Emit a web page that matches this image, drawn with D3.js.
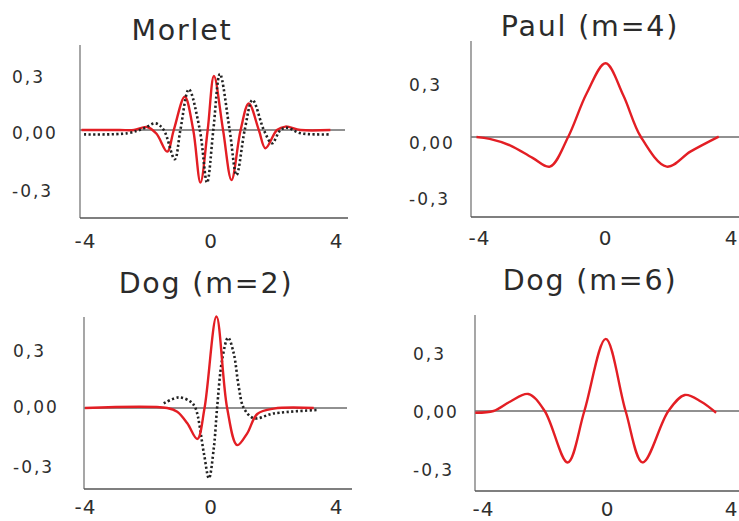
<!DOCTYPE html>
<html>
<head>
<meta charset="utf-8">
<script src="https://cdn.jsdelivr.net/npm/d3@7"></script>
<style>
  body { margin: 0; background: #fff; }
  svg { display: block; }
  .title { font-family: "DejaVu Sans", sans-serif; font-size: 28.5px; fill: #2b2b2b; letter-spacing: 1.8px; }
  .ylab text { font-family: "DejaVu Sans", sans-serif; font-size: 17px; fill: #2e2e2e; letter-spacing: 2px; }
  .xlab text { font-family: "DejaVu Sans", sans-serif; font-size: 20px; fill: #2e2e2e; letter-spacing: 1px; }
</style>
</head>
<body>
<div id="chart"></div>
<script>
// ── Data ─────────────────────────────────────────────────────────────────
const titles = ["Morlet", "Paul (m=4)", "Dog (m=2)", "Dog (m=6)"];

const xTickValues = [-4, 0, 4];
const xTickLabels = ["-4", "0", "4"];
const yTickValues = [-0.3, 0, 0.3];
const yTickLabels = ["-0,3", "0,00", "0,3"];

// Morlet, real part (red)
const morletRealX = [-4.11, -2.9, -2.44, -2.02, -1.72, -1.38, -1.17, -0.82, -0.55, -0.32, -0.09, 0.11, 0.40, 0.67, 0.96, 1.22, 1.54, 1.75, 2.12, 2.39, 2.87, 3.82];
const morletRealY = [0, 0, 0.0, 0.016, -0.02, -0.114, 0, 0.175, 0, -0.277, 0, 0.284, 0, -0.263, 0, 0.14, 0, -0.096, 0, 0.018, 0, 0];
// Morlet, imaginary part (dotted)
const morletImagX = [-4.03, -2.65, -2.12, -1.75, -1.49, -1.14, -0.96, -0.69, -0.34, -0.11, 0.09, 0.30, 0.61, 0.83, 1.09, 1.34, 1.70, 1.96, 2.23, 2.44, 2.87, 3.82];
const morletImagY = [-0.023, -0.017, 0.009, 0.035, 0, -0.154, 0, 0.214, 0, -0.277, 0, 0.295, 0, -0.237, 0, 0.158, 0, -0.07, 0, 0.012, -0.017, -0.023];

// Paul m=4 (red)
const paulX = [-4.08, -3.66, -3.0, -2.3, -1.75, -1.17, -0.58, 0.02, 0.58, 1.14, 1.96, 2.71, 3.61];
const paulY = [0, -0.01, -0.045, -0.11, -0.156, 0, 0.23, 0.388, 0.22, 0, -0.156, -0.077, 0.002];

// Dog m=2, real (red)
const dog2RealX = [-4.0, -1.38, -1.06, -0.74, -0.42, -0.19, 0.19, 0.53, 0.85, 1.17, 1.49, 2.02, 3.29];
const dog2RealY = [0, 0, -0.019, -0.079, -0.16, 0, 0.473, 0, -0.192, -0.131, -0.031, -0.003, 0];
// Dog m=2, imaginary (dotted)
const dog2ImagX = [-1.49, -1.01, -0.64, -0.48, -0.21, -0.05, 0.11, 0.21, 0.37, 0.56, 0.74, 0.90, 1.06, 1.38, 2.02, 3.45];
const dog2ImagY = [0.024, 0.055, 0.033, 0, -0.235, -0.364, -0.2, 0, 0.249, 0.364, 0.283, 0.11, 0, -0.053, -0.028, -0.01];

// Dog m=6 (red)
const dog6X = [-4.25, -3.66, -3.13, -2.54, -2.01, -1.27, -0.73, -0.04, 0.60, 1.15, 1.98, 2.51, 3.04, 3.52];
const dog6Y = [-0.009, 0, 0.048, 0.088, 0, -0.266, 0, 0.373, 0, -0.266, 0, 0.083, 0.048, -0.009];

// ── Layout of the four panels (pixels) ─────────────────────────────────────
const panels = [
  { title: titles[0], tx: 182, ty: 40,  axisX: 80,  top: 45,  bottom: 218, right: 348, zeroRight: 345,
    xr: [85, 336],  yr: [187, 73],  labX: 12,  labDy: [4, 3, 4], xLabY: 241,
    series: [ { x: morletRealX, y: morletRealY, dotted: false }, { x: morletImagX, y: morletImagY, dotted: true } ] },
  { title: titles[1], tx: 590, ty: 36,  axisX: 471, top: 41,  bottom: 217, right: 739, zeroRight: 739,
    xr: [479, 731], yr: [194, 80],  labX: 409, labDy: [5, 6, 5], xLabY: 238,
    series: [ { x: paulX, y: paulY, dotted: false } ] },
  { title: titles[2], tx: 206, ty: 293, axisX: 84,  top: 317, bottom: 489, right: 352, zeroRight: 347,
    xr: [85, 336],  yr: [466, 350], labX: 13,  labDy: [1, -1, 1], xLabY: 507,
    series: [ { x: dog2ImagX, y: dog2ImagY, dotted: true }, { x: dog2RealX, y: dog2RealY, dotted: false } ] },
  { title: titles[3], tx: 590, ty: 290, axisX: 475, top: 315, bottom: 491, right: 739, zeroRight: 739,
    xr: [483, 731], yr: [469, 353], labX: 413, labDy: [1, 1, 1], xLabY: 509,
    series: [ { x: dog6X, y: dog6Y, dotted: false } ] }
];

const svg = d3.select("#chart").append("svg")
  .attr("width", 739).attr("height", 521);

panels.forEach(p => {
  const x = d3.scaleLinear().domain([-4, 4]).range(p.xr);
  const y = d3.scaleLinear().domain([-0.3, 0.3]).range(p.yr);
  const g = svg.append("g");

  // title
  g.append("text").attr("class", "title")
    .attr("x", p.tx).attr("y", p.ty)
    .attr("text-anchor", "middle")
    .text(p.title);

  // zero line
  g.append("line")
    .attr("x1", p.axisX).attr("x2", p.zeroRight)
    .attr("y1", y(0)).attr("y2", y(0))
    .attr("stroke", "#222").attr("stroke-width", 1);

  // left + bottom axis lines
  g.append("line")
    .attr("x1", p.axisX).attr("x2", p.axisX)
    .attr("y1", p.top).attr("y2", p.bottom)
    .attr("stroke", "#777").attr("stroke-width", 1.3);
  g.append("line")
    .attr("x1", p.axisX).attr("x2", p.right)
    .attr("y1", p.bottom).attr("y2", p.bottom)
    .attr("stroke", "#555").attr("stroke-width", 1.3);

  // y tick labels (left aligned)
  const yAxisG = g.append("g").attr("class", "ylab")
    .attr("transform", `translate(${p.labX},0)`)
    .call(d3.axisRight(y).tickValues(yTickValues).tickSize(0).tickPadding(0)
      .tickFormat((d, i) => yTickLabels[i]));
  yAxisG.select(".domain").remove();
  yAxisG.selectAll("text")
    .attr("x", 0)
    .attr("dy", (d, i) => (p.labDy[i] / 17 + 0.32) + "em")
    .attr("text-anchor", "start")
    .attr("font-family", null).attr("font-size", null).attr("fill", null);

  // x tick labels
  const xAxisG = g.append("g").attr("class", "xlab")
    .attr("transform", `translate(0,${p.xLabY})`)
    .call(d3.axisBottom(x).tickValues(xTickValues).tickSize(0).tickPadding(0)
      .tickFormat((d, i) => xTickLabels[i]));
  xAxisG.select(".domain").remove();
  xAxisG.selectAll("text")
    .attr("y", 0).attr("dy", "0.36em")
    .attr("font-family", null).attr("font-size", null).attr("fill", null);

  // curves
  const line = d3.line()
    .x(d => x(d[0])).y(d => y(d[1]))
    .curve(d3.curveCatmullRom.alpha(0.5));

  p.series.forEach(s => {
    const pts = s.x.map((v, i) => [v, s.y[i]]);
    g.append("path")
      .datum(pts)
      .attr("fill", "none")
      .attr("stroke", s.dotted ? "#222" : "#e31e24")
      .attr("stroke-width", s.dotted ? 2.6 : 2.4)
      .attr("stroke-dasharray", s.dotted ? "2.2,2.4" : null)
      .attr("d", line);
  });
});
</script>
</body>
</html>
